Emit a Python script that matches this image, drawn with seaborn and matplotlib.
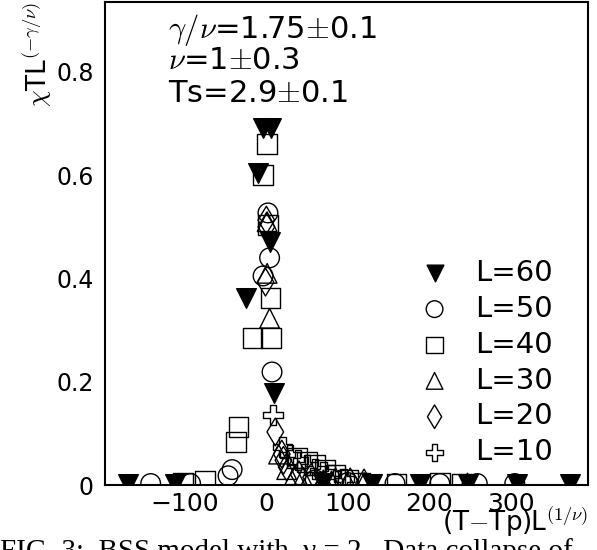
import numpy as np
import pandas as pd
import seaborn as sns
import matplotlib.pyplot as plt
from matplotlib.ticker import MultipleLocator, FixedLocator

# data
L60_x = [-170, -112, -25, -10, -4, 6, 5, 9, 70, 130, 189, 248, 308, 373]
L60_y = [0.003, 0.003, 0.362, 0.605, 0.692, 0.692, 0.47, 0.178, 0.004, 0.003, 0.003, 0.003, 0.003, 0.003]

L50_x = [-142, -93, -47, -42, -4, 2, 4, 7, 60, 100, 158, 213, 259, 305]
L50_y = [0.003, 0.003, 0.018, 0.03, 0.405, 0.527, 0.44, 0.219, 0.01, 0.005, 0.003, 0.003, 0.003, 0.003]

L40_x = [-102, -75, -37, -34, -17, 6, 5, 2, -4, 1, 38, 50, 60, 72, 85, 100, 115, 160, 213, 240]
L40_y = [0.004, 0.008, 0.083, 0.112, 0.285, 0.285, 0.362, 0.504, 0.60, 0.661, 0.052, 0.045, 0.039, 0.03,
         0.02, 0.01, 0.005, 0.003, 0.004, 0.003]

L30_x = [1, 1, 4, 15, 25, 35, 45, 70, 80, 100, 120, 247]
L30_y = [0.51, 0.41, 0.323, 0.06, 0.03, 0.02, 0.015, 0.01, 0.008, 0.005, 0.005, 0.004]

L20_x = [0, 0, -1, 11, 19, 21, 25, 40, 55, 85, 103, 120]
L20_y = [0.513, 0.50, 0.393, 0.103, 0.06, 0.048, 0.035, 0.02, 0.015, 0.006, 0.006, 0.004]

L10_x = [8, 20, 29, 39, 50, 60, 70, 80, 95]
L10_y = [0.136, 0.074, 0.058, 0.048, 0.039, 0.031, 0.025, 0.02, 0.012]

series = [
    ("L=60", L60_x, L60_y, "v", "black"),
    ("L=50", L50_x, L50_y, "o", "none"),
    ("L=40", L40_x, L40_y, "s", "none"),
    ("L=30", L30_x, L30_y, "^", "none"),
    ("L=20", L20_x, L20_y, "d", "none"),
    ("L=10", L10_x, L10_y, "P", "none"),
]

sns.set_style("white")
plt.rcParams["font.family"] = ["DejaVu Sans"]
plt.rcParams["mathtext.fontset"] = "cm"
for k in ["text.color", "axes.labelcolor", "xtick.color", "ytick.color"]:
    plt.rcParams[k] = "black"

fig = plt.figure(figsize=(5.97, 5.5), dpi=100)
ax = fig.add_axes([0.176, 0.118, 0.809, 0.878])

for label, xs, ys, m, fc in series:
    sns.scatterplot(x=xs, y=ys, marker=m, s=200, facecolor=fc, edgecolor="black",
                    linewidth=1.0, label=label, ax=ax)

ax.set_xlim(-198, 395)
ax.set_ylim(0, 0.935)
ax.xaxis.set_major_locator(FixedLocator([-100, 0, 100, 200, 300]))
ax.xaxis.set_minor_locator(MultipleLocator(20))
ax.yaxis.set_major_locator(FixedLocator([0, 0.2, 0.4, 0.6, 0.8]))
ax.yaxis.set_minor_locator(MultipleLocator(0.05))
ax.set_yticklabels(["0", "0.2", "0.4", "0.6", "0.8"])
ax.tick_params(which="both", direction="in", width=1.2)
ax.tick_params(axis="x", labelsize=18, pad=5)
ax.tick_params(axis="y", labelsize=17, pad=8)
ax.tick_params(which="major", length=7)
ax.tick_params(which="minor", length=4)
for sp in ax.spines.values():
    sp.set_linewidth(1.5)
    sp.set_color("black")

ax.set_ylabel(r"$\chi$TL$^{\mathbf{(-\gamma/\nu)}}$", fontsize=19, loc="top", labelpad=2)
ax.set_xlabel(r"(T$-$Tp)L$^{\mathbf{(1/\nu)}}$", fontsize=19, loc="right", labelpad=-8)

ax.text(0.13, 0.98, r"$\gamma/\nu$=1.75$\pm$0.1", transform=ax.transAxes, fontsize=22, va="top")
ax.text(0.13, 0.91, r"$\nu$=1$\pm$0.3", transform=ax.transAxes, fontsize=22, va="top")
ax.text(0.13, 0.84, r"Ts=2.9$\pm$0.1", transform=ax.transAxes, fontsize=22, va="top")

ax.legend(loc="lower left", bbox_to_anchor=(0.652, 0.039), frameon=False, fontsize=21,
          markerscale=0.85, handlelength=1.0, handletextpad=0.9, labelspacing=0.27,
          borderaxespad=0, borderpad=0)

fig.text(0.0, 0.021, "FIG. 3:  BSS model with  γ = 2.  Data collapse of", fontsize=21,
         family="Liberation Serif", va="top", ha="left")

fig.savefig("out.png", dpi=100)
